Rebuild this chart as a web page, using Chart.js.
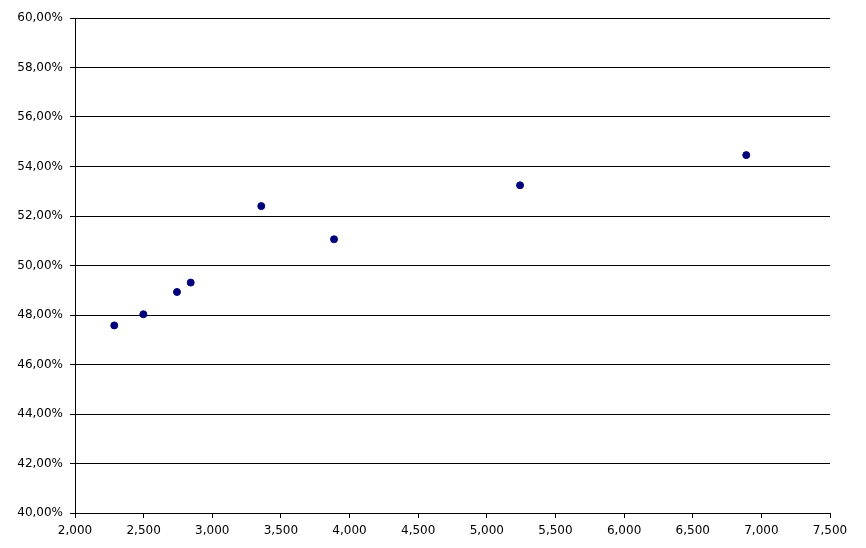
<!DOCTYPE html>
<html>
<head>
<meta charset="utf-8">
<script src="https://cdn.jsdelivr.net/npm/chart.js@4/dist/chart.umd.min.js"></script>
<style>
  html, body { margin: 0; padding: 0; background: #fff; }
  #wrap { width: 866px; height: 548px; }
</style>
</head>
<body>
<div id="wrap"><canvas id="scatter-chart"></canvas></div>
<script>
// values
const xValues = [2286, 2498, 2743, 2843, 3357, 3887, 5242, 6890];
const yValues = [47.58, 48.03, 48.93, 49.31, 52.40, 51.06, 53.24, 54.46];
const xRange = [2000, 7500];
const yRange = [40, 60];

const points = xValues.map((x, i) => ({ x: x, y: yValues[i] }));

Chart.defaults.font.family = "'DejaVu Sans', sans-serif";
Chart.defaults.font.size = 12;
Chart.defaults.color = '#000';

// Scatter
new Chart(document.getElementById("scatter-chart"), {
    type: 'scatter',
    data: {
        datasets: [{
            data: points,
            backgroundColor: '#000080',
            borderColor: '#000080',
            pointRadius: 3.5,
            pointHoverRadius: 3.5
        }]
    },
    options: {
        animation: false,
        responsive: true,
        maintainAspectRatio: false,
        layout: { padding: { left: 0, right: 36, top: 18, bottom: 0 } },
        plugins: {
            legend: { display: false },
            tooltip: { enabled: false }
        },
        scales: {
            x: {
                type: 'linear',
                min: xRange[0],
                max: xRange[1],
                afterFit: s => { s.height = 35; },
                border: { display: true, color: '#000', width: 1 },
                grid: { drawOnChartArea: false, drawTicks: true, tickLength: 5, color: '#000' },
                ticks: {
                    stepSize: 500,
                    padding: 6,
                    maxRotation: 0,
                    callback: v => v.toLocaleString('en-US')
                }
            },
            y: {
                min: yRange[0],
                max: yRange[1],
                afterFit: s => { s.width = 75; },
                border: { display: true, color: '#000', width: 1 },
                grid: { color: '#000', lineWidth: 1, tickLength: 5 },
                ticks: {
                    stepSize: 2,
                    padding: 7,
                    callback: v => v.toFixed(2).replace('.', ',') + '%'
                }
            }
        }
    }
});
</script>
</body>
</html>
